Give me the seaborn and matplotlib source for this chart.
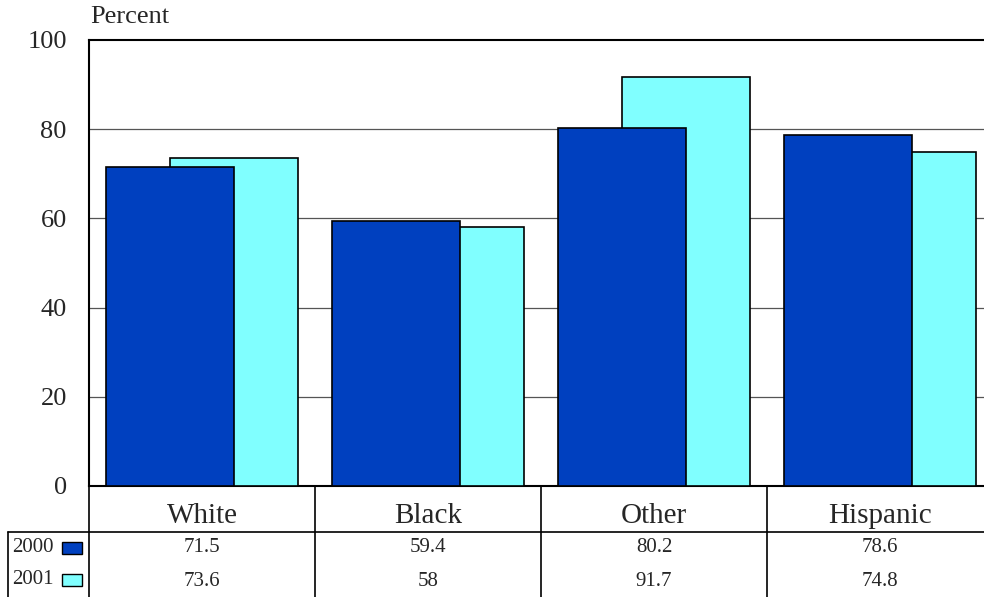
import seaborn as sns
import pandas as pd
import matplotlib.pyplot as plt
from matplotlib.patches import Rectangle

categories = ['White', 'Black', 'Other', 'Hispanic']
years = ['2000', '2001']
values_2000 = [71.5, 59.4, 80.2, 78.6]
values_2001 = [73.6, 58, 91.7, 74.8]
colors = {'2000': '#0040BF', '2001': '#80FFFF'}
yticks = [0, 20, 40, 60, 80, 100]

sns.set_style('white')
plt.rcParams['font.family'] = ['Liberation Serif', 'DejaVu Serif']

df = pd.DataFrame({
    'cat': categories * 2,
    'pos': list(range(4)) * 2,
    'year': ['2000'] * 4 + ['2001'] * 4,
    'value': values_2000 + values_2001,
})
# overlapping bars: 2001 behind, 2000 in front
df['x'] = df['pos'] + df['year'].map({'2000': -0.143, '2001': 0.143})

fig = plt.figure(figsize=(9.84, 5.97), dpi=100)
W, H = 984, 597
ax = fig.add_axes([89 / W, (H - 486) / H, 904 / W, 446 / H])

for yr in ['2001', '2000']:
    sub = df[df['year'] == yr]
    sns.barplot(data=sub, x='x', y='value', native_scale=True, width=0.567,
                color=colors[yr], edgecolor='black', linewidth=1.2,
                saturation=1, ax=ax, errorbar=None, zorder=3)

ax.set_xlim(-0.5, 3.5)
ax.set_ylim(0, 100)
ax.set_yticks(yticks)
ax.set_yticklabels([str(t) for t in yticks], fontsize=19)
ax.tick_params(axis='y', length=0, pad=16)
ax.set_xticks([])
ax.set_xlabel('')
ax.set_ylabel('')
for t in yticks[1:-1]:
    ax.axhline(t, color='#555555', linewidth=0.9, zorder=1)
for s in ['top', 'left', 'bottom']:
    ax.spines[s].set_color('black')
    ax.spines[s].set_linewidth(1.5)
ax.spines['right'].set_visible(False)

ax.text(1 / 904, (486 - 17) / 446, 'Percent', transform=ax.transAxes,
        fontsize=19, ha='left', va='center')

# data table below the plot
tr = ax.get_xaxis_transform()


def ay(py):
    return (486 - py) / 446


left = -0.5 - 81 / 226
kw = dict(transform=tr, clip_on=False, color='black')
ax.plot([left, 3.6], [ay(532), ay(532)], linewidth=1.2, **kw)
ax.plot([left, left], [ay(532), ay(600)], linewidth=1.2, **kw)
for i in range(4):
    ax.plot([i - 0.5, i - 0.5], [0, ay(600)], linewidth=1.2, **kw)

for i, c in enumerate(categories):
    ax.text(i, ay(516), c, transform=tr, ha='center', va='center', fontsize=21)
    ax.text(i, ay(548), f'{values_2000[i]:g}', transform=tr, ha='center',
            va='center', fontsize=15)
    ax.text(i, ay(581), f'{values_2001[i]:g}', transform=tr, ha='center',
            va='center', fontsize=15)

for yr, py in zip(years, [548, 580]):
    ax.text(-0.5 - 35 / 226, ay(py), yr, transform=tr, ha='right',
            va='center', fontsize=15)
    ax.add_patch(Rectangle((-0.5 - 27 / 226, ay(py + 6)), 20 / 226,
                           12 / 446, transform=tr, facecolor=colors[yr],
                           edgecolor='black', linewidth=1, clip_on=False))

fig.savefig('out.png', dpi=100)
